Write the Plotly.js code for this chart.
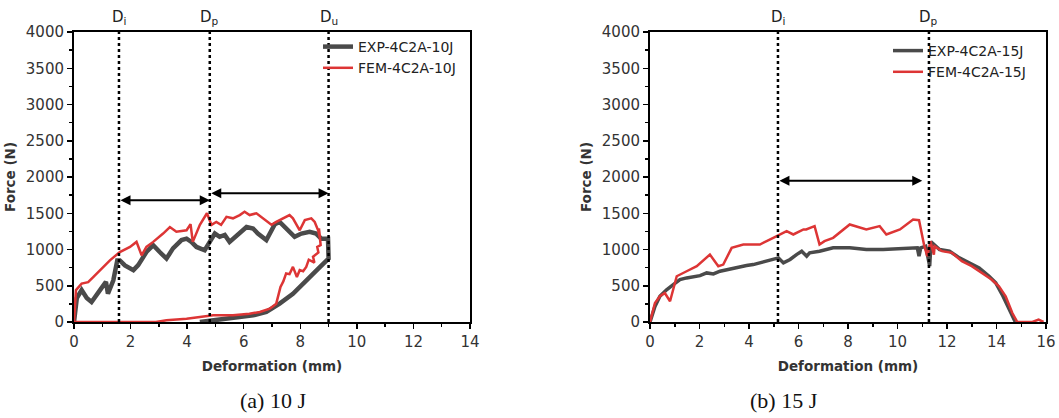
<!DOCTYPE html>
<html>
<head>
<meta charset="utf-8">
<script src="https://cdn.plot.ly/plotly-3.0.1.min.js"></script>
<style>
  html, body { margin: 0; padding: 0; background: #fff; }
  #chart { width: 1059px; height: 418px; }
</style>
</head>
<body>
<div id="chart"></div>
<script>
// ---- 10 J impact: force–deformation loop ----
const exp10X = [0, 0.1, 0.27, 0.45, 0.62, 0.8, 0.92, 1.13, 1.2, 1.39, 1.53, 1.62, 1.8, 2.1, 2.27, 2.56, 2.8, 3.03, 3.27, 3.5, 3.8, 3.98, 4.15, 4.33, 4.62, 4.8, 4.98, 5.15, 5.33, 5.5, 5.8, 6.1, 6.33, 6.5, 6.8, 6.92, 7.1, 7.27, 7.45, 7.62, 7.8, 8.04, 8.33, 8.56, 8.74, 8.98, 9.0, 8.7, 8.2, 7.74, 7.27, 6.8, 6.33, 5.86, 5.4, 4.92, 4.45];
const exp10Y = [0, 330, 440, 330, 275, 360, 440, 555, 390, 575, 850, 850, 780, 715, 785, 965, 1060, 965, 875, 1015, 1130, 1150, 1105, 1035, 990, 1105, 1220, 1175, 1200, 1105, 1200, 1310, 1290, 1220, 1130, 1220, 1350, 1380, 1310, 1265, 1175, 1220, 1245, 1220, 1150, 1150, 875, 760, 575, 390, 253, 138, 92, 69, 46, 23, 0];

const fem10X = [0, 0.07, 0.27, 0.5, 0.68, 0.92, 1.27, 1.62, 1.98, 2.21, 2.39, 2.56, 2.8, 3.15, 3.39, 3.62, 3.98, 4.12, 4.2, 4.45, 4.7, 4.86, 5.03, 5.2, 5.39, 5.62, 5.86, 6.03, 6.21, 6.45, 6.68, 6.98, 7.15, 7.39, 7.62, 7.74, 7.98, 8.16, 8.39, 8.51, 8.63, 8.7, 8.66, 8.72, 8.6, 8.64, 8.45, 8.5, 8.3, 8.21, 8.1, 7.98, 7.88, 7.74, 7.62, 7.5, 7.4, 7.3, 7.15, 6.92, 6.57, 6.2, 5.62, 4.92, 4.45, 3.98, 3.27, 2.9, 0];
const fem10Y = [0, 440, 530, 550, 620, 715, 850, 965, 1035, 1105, 920, 1035, 1105, 1220, 1310, 1245, 1265, 1350, 1105, 1340, 1500, 1340, 1380, 1340, 1450, 1430, 1475, 1520, 1475, 1500, 1430, 1340, 1380, 1430, 1475, 1430, 1265, 1405, 1430, 1380, 1265, 1150, 1290, 1060, 1035, 960, 900, 820, 860, 760, 700, 715, 620, 760, 660, 670, 560, 485, 253, 184, 138, 115, 92, 92, 69, 46, 23, 0, 0];

// ---- 15 J impact: force–deformation curves ----
const exp15X = [0, 0.2, 0.4, 0.67, 0.94, 1.21, 1.48, 1.75, 2.02, 2.29, 2.56, 2.83, 3.1, 3.37, 3.64, 3.9, 4.17, 4.44, 4.71, 4.98, 5.19, 5.39, 5.66, 5.92, 6.13, 6.33, 6.45, 6.85, 7.4, 8.07, 8.74, 9.42, 10.1, 10.8, 10.87, 10.94, 11.14, 11.3, 11.35, 11.4, 11.7, 12.1, 12.5, 12.9, 13.3, 13.7, 13.97, 14.23, 14.5, 14.7, 14.76];
const exp15Y = [0, 215, 355, 445, 515, 585, 608, 622, 640, 677, 663, 700, 723, 746, 760, 779, 792, 815, 838, 862, 885, 815, 862, 930, 977, 908, 955, 977, 1023, 1023, 1000, 1000, 1010, 1023, 908, 1023, 1046, 770, 1070, 1092, 1000, 977, 885, 815, 746, 631, 539, 378, 194, 32, 0];

const fem15X = [0, 0.2, 0.4, 0.6, 0.81, 1.08, 1.48, 1.89, 2.42, 2.76, 2.96, 3.3, 3.77, 4.44, 4.98, 5.52, 5.79, 6.2, 6.31, 6.65, 6.85, 7.05, 7.4, 8.07, 8.74, 9.28, 9.55, 10.1, 10.63, 10.87, 11.07, 11.2, 11.33, 11.47, 11.5, 11.8, 12.2, 12.6, 13.0, 13.4, 13.8, 14.1, 14.37, 14.64, 14.84, 15.45, 15.7, 15.9];
const fem15Y = [0, 263, 355, 400, 286, 631, 700, 770, 930, 770, 792, 1023, 1069, 1069, 1161, 1253, 1207, 1276, 1276, 1322, 1069, 1115, 1161, 1345, 1276, 1322, 1207, 1276, 1414, 1405, 1069, 908, 1115, 930, 1046, 977, 954, 839, 770, 677, 585, 493, 355, 124, 0, 0, 32, 0];

// Characteristic deformations (mm) and arrow heights (N)
const marks10 = {Di: 1.59, Dp: 4.8, Du: 9.0};
const arrows10 = [[1.59, 4.8, 1680], [4.8, 9.0, 1775]];
const marks15 = {Di: 5.17, Dp: 11.27};
const arrows15 = [[5.17, 11.0, 1950]];

const names10 = ['EXP-4C2A-10J', 'FEM-4C2A-10J'];
const names15 = ['EXP-4C2A-15J', 'FEM-4C2A-15J'];
const captions = ['(a) 10 J', '(b) 15 J'];

const GREY = '#4a4a4a';
const RED = '#dd3535';

const traces = [
  {x: exp10X, y: exp10Y, name: names10[0], xaxis: 'x', yaxis: 'y', legend: 'legend', mode: 'lines', line: {color: GREY, width: 4.5}},
  {x: fem10X, y: fem10Y, name: names10[1], xaxis: 'x', yaxis: 'y', legend: 'legend', mode: 'lines', line: {color: RED, width: 2.5}},
  {x: exp15X, y: exp15Y, name: names15[0], xaxis: 'x2', yaxis: 'y2', legend: 'legend2', mode: 'lines', line: {color: GREY, width: 3.5}},
  {x: fem15X, y: fem15Y, name: names15[1], xaxis: 'x2', yaxis: 'y2', legend: 'legend2', mode: 'lines', line: {color: RED, width: 2.5}}
];

const SANS = 'DejaVu Sans, Arial, sans-serif';
const tickFont = {family: SANS, size: 15, color: '#333'};
const titleFont = {family: SANS, size: 13.5, color: '#333', weight: 'bold'};

function xAxis(domain, max, anchor) {
  return {
    domain: domain, range: [0, max], anchor: anchor,
    dtick: 2, tick0: 0, ticks: 'outside', ticklen: 5, tickwidth: 1.5, tickcolor: '#000',
    minor: {dtick: 1, ticks: 'outside', ticklen: 3, tickcolor: '#000', showgrid: false},
    showline: true, linecolor: '#000', linewidth: 2, mirror: true,
    showgrid: false, zeroline: false, tickfont: tickFont,
    title: {text: '<b>Deformation (mm)</b>', font: titleFont, standoff: 12}
  };
}
function yAxis(domain, anchor) {
  return {
    domain: domain, range: [0, 4000], anchor: anchor,
    dtick: 500, tick0: 0, ticks: 'outside', ticklen: 5, tickwidth: 1.5, tickcolor: '#000',
    minor: {dtick: 250, ticks: 'outside', ticklen: 3, tickcolor: '#000', showgrid: false},
    showline: true, linecolor: '#000', linewidth: 2, mirror: true,
    showgrid: false, zeroline: false, tickfont: tickFont,
    title: {text: '<b>Force (N)</b>', font: titleFont, standoff: 7}
  };
}

const shapes = [];
const annotations = [];
function addMarks(marks, xr, yr) {
  Object.keys(marks).forEach(k => {
    const v = marks[k];
    shapes.push({type: 'line', xref: xr, yref: yr, x0: v, x1: v, y0: 0, y1: 4000,
      line: {color: '#000', width: 2.5, dash: 'dot'}});
    annotations.push({xref: xr, yref: 'paper', x: v, y: 1 - 17 / 418, yanchor: 'middle',
      text: 'D<sub>' + k.slice(1) + '</sub>', showarrow: false,
      font: {family: SANS, size: 15, color: '#222'}});
  });
}
function addArrows(list, xr, yr) {
  list.forEach(a => {
    annotations.push({xref: xr, yref: yr, axref: xr, ayref: yr,
      x: a[1], y: a[2], ax: a[0], ay: a[2], text: '', showarrow: true,
      arrowhead: 2, arrowside: 'end+start', arrowsize: 1, arrowwidth: 2, arrowcolor: '#000',
      standoff: 0, startstandoff: 0});
  });
}
addMarks(marks10, 'x', 'y');
addMarks(marks15, 'x2', 'y2');
addArrows(arrows10, 'x', 'y');
addArrows(arrows15, 'x2', 'y2');

const capFont = {family: 'Liberation Serif, Times New Roman, serif', size: 22, color: '#111'};
annotations.push({xref: 'paper', yref: 'paper', x: 238 / 1059, y: 1 - 400 / 418, yanchor: 'middle',
  text: captions[0], showarrow: false, font: capFont});
annotations.push({xref: 'paper', yref: 'paper', x: 820 / 1059, y: 1 - 400 / 418, yanchor: 'middle',
  text: captions[1], showarrow: false, font: capFont});

const legendFont = {family: SANS, size: 14, color: '#222'};

const layout = {
  width: 1059, height: 418,
  margin: {l: 0, r: 0, t: 0, b: 0},
  paper_bgcolor: '#fff', plot_bgcolor: '#fff',
  showlegend: true,
  xaxis: xAxis([74 / 1059, 470 / 1059], 14, 'y'),
  yaxis: yAxis([1 - 322 / 418, 1 - 32 / 418], 'x'),
  xaxis2: xAxis([650 / 1059, 1046 / 1059], 16, 'y2'),
  yaxis2: yAxis([1 - 322 / 418, 1 - 32 / 418], 'x2'),
  legend: {x: 461 / 1059, xanchor: 'right', y: 1 - 31 / 418, yanchor: 'top', bgcolor: 'rgba(0,0,0,0)',
    font: legendFont, tracegroupgap: 0, itemwidth: 30},
  legend2: {x: 1031 / 1059, xanchor: 'right', y: 1 - 35 / 418, yanchor: 'top', bgcolor: 'rgba(0,0,0,0)',
    font: legendFont, tracegroupgap: 0, itemwidth: 30},
  shapes: shapes,
  annotations: annotations
};

Plotly.newPlot('chart', traces, layout, {displayModeBar: false, staticPlot: true});
</script>
</body>
</html>
